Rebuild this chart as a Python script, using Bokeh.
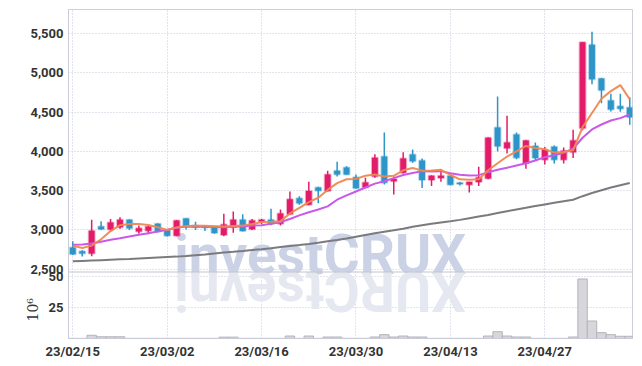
import math
from bokeh.plotting import figure
from bokeh.models import (ColumnDataSource, Range1d, FixedTicker, Label, Span, Title)
from bokeh.embed import file_html
from bokeh.resources import INLINE

dates = ["23/02/15", "23/02/16", "23/02/17", "23/02/20", "23/02/21", "23/02/22", "23/02/23", "23/02/24",
         "23/02/27", "23/02/28", "23/03/02", "23/03/03", "23/03/06", "23/03/07", "23/03/08", "23/03/09",
         "23/03/10", "23/03/13", "23/03/14", "23/03/15", "23/03/16", "23/03/17", "23/03/20", "23/03/21",
         "23/03/22", "23/03/23", "23/03/24", "23/03/27", "23/03/28", "23/03/29", "23/03/30", "23/03/31",
         "23/04/03", "23/04/04", "23/04/05", "23/04/06", "23/04/07", "23/04/10", "23/04/11", "23/04/12",
         "23/04/13", "23/04/14", "23/04/17", "23/04/18", "23/04/19", "23/04/20", "23/04/21", "23/04/24",
         "23/04/25", "23/04/26", "23/04/27", "23/04/28", "23/05/02", "23/05/03", "23/05/04", "23/05/08",
         "23/05/09", "23/05/10", "23/05/11", "23/05/12"]

opens = [2775, 2730, 2700, 3045, 3005, 3035, 3130, 2980, 2990, 3080,
         3000, 2925, 3145, 3055, 3040, 3045, 2935, 3035, 3130, 3010,
         3105, 3130, 3080, 3200, 3405, 3320, 3540, 3495, 3755, 3795,
         3670, 3540, 3680, 3935, 3620, 3730, 3960, 3885, 3635, 3660,
         3690, 3600, 3575, 3612, 3655, 4305, 4040, 4215, 3850, 4070,
         3895, 4060, 3895, 3990, 4295, 5360, 4930, 4650, 4575, 4560]
highs = [2855, 2740, 3130, 3110, 3140, 3160, 3135, 3055, 3050, 3085,
         3005, 3125, 3150, 3105, 3045, 3050, 3205, 3235, 3200, 3140,
         3140, 3270, 3260, 3490, 3430, 3615, 3550, 3755, 3870, 3810,
         3705, 3665, 3965, 4240, 3680, 3990, 4025, 3910, 3695, 3775,
         3695, 3612, 3615, 3805, 4180, 4700, 4455, 4240, 4145, 4115,
         4055, 4075, 4050, 4275, 5395, 5525, 4935, 4735, 4735, 4690]
lows = [2680, 2660, 2665, 3000, 2980, 3015, 3000, 2950, 2945, 2970,
        2915, 2920, 3005, 3000, 2985, 2950, 2920, 2965, 2980, 3000,
        3075, 3060, 3055, 3195, 3320, 3315, 3340, 3490, 3680, 3700,
        3525, 3535, 3665, 3580, 3450, 3720, 3855, 3535, 3560, 3615,
        3570, 3565, 3477, 3560, 3645, 4000, 3975, 3900, 3780, 3880,
        3835, 3845, 3845, 3915, 4270, 4855, 4615, 4510, 4505, 4340]
closes = [2690, 2700, 2990, 3010, 3095, 3130, 3020, 3020, 3045, 2980,
          2925, 3120, 3045, 3035, 3030, 2960, 3070, 3130, 2985, 3120,
          3130, 3080, 3210, 3390, 3340, 3495, 3500, 3705, 3705, 3705,
          3530, 3605, 3920, 3600, 3650, 3910, 3875, 3635, 3690, 3690,
          3575, 3585, 3612, 3668, 4175, 4065, 4115, 3920, 4140, 3915,
          4020, 3895, 4010, 4140, 5390, 4920, 4780, 4535, 4545, 4435]

ma_short = [2800, 2770, 2800, 2880, 2985, 3060, 3075, 3075, 3062, 3035,
            3000, 3030, 3050, 3052, 3052, 3048, 3044, 3050, 3055, 3075,
            3100, 3104, 3112, 3210, 3282, 3354, 3410, 3510, 3596, 3645,
            3650, 3690, 3706, 3681, 3690, 3760, 3790, 3755, 3757, 3766,
            3700, 3645, 3640, 3645, 3760, 3850, 3935, 4000, 4070, 4045,
            4028, 3985, 3992, 4015, 4309, 4490, 4671, 4768, 4845, 4665]
ma_mid = [2811, 2813, 2827, 2849, 2874, 2895, 2917, 2938, 2959, 2980,
          3002, 3027, 3044, 3042, 3040, 3038, 3035, 3040, 3044, 3057,
          3061, 3078, 3099, 3140, 3185, 3226, 3260, 3300, 3385, 3440,
          3490, 3540, 3590, 3620, 3660, 3700, 3725, 3749, 3745, 3749,
          3723, 3702, 3693, 3698, 3736, 3766, 3792, 3821, 3850, 3885,
          3927, 3952, 3983, 4034, 4174, 4280, 4343, 4394, 4424, 4471]
ma_long = [2600, 2605, 2610, 2615, 2620, 2625, 2630, 2636, 2642, 2648,
           2654, 2660, 2668, 2678, 2688, 2700, 2712, 2722, 2733, 2745,
           2755, 2768, 2782, 2795, 2808, 2822, 2838, 2855, 2872, 2890,
           2912, 2935, 2958, 2978, 2995, 3015, 3040, 3060, 3078, 3095,
           3110, 3128, 3150, 3170, 3190, 3215, 3238, 3260, 3282, 3305,
           3325, 3345, 3365, 3385, 3430, 3470, 3505, 3540, 3570, 3598]

volume = [0.5, 0.5, 3.0, 1.8, 1.8, 1.8, 0.5, 0.5, 0.5, 0.5,
          0.5, 0.5, 0.5, 0.5, 0.5, 0.5, 1.5, 1.5, 0.5, 0.5,
          0.5, 0.5, 0.5, 2.4, 0.5, 2.4, 0.5, 1.6, 1.6, 0.5,
          0.5, 0.5, 1.6, 3.5, 1.6, 2.4, 1.6, 1.6, 0.5, 0.5,
          0.5, 0.5, 0.5, 0.5, 2.4, 5.9, 2.4, 1.6, 1.6, 0.5,
          0.5, 0.5, 0.5, 1.6, 48.4, 14.5, 5.1, 3.5, 2.2, 2.2]

tick_positions = [0, 10, 20, 30, 40, 50]
price_ticks = [2500, 3000, 3500, 4000, 4500, 5000, 5500]
volume_ticks = [25, 50]

UP = "#e31c69"
DOWN = "#2e95c9"
TICK_FONT = "Roboto"
GRID = "#c6c9d9"

# price range spans the whole frame; the volume panel lives in its lower part
P_LO, P_HI = 1617, 5808
V_LO, V_HI = 0.4, 265.7


def vol_to_price(vv):
    return P_LO + (vv - V_LO) / (V_HI - V_LO) * (P_HI - P_LO)


idx = list(range(len(dates)))
colors = [UP if c >= o else DOWN for o, c in zip(opens, closes)]
src = ColumnDataSource(dict(
    x=idx, open=opens, high=highs, low=lows, close=closes,
    top=[max(o, c) for o, c in zip(opens, closes)],
    bottom=[min(o, c) for o, c in zip(opens, closes)],
    color=colors, ma_s=ma_short, ma_m=ma_mid, ma_l=ma_long, vol=volume,
))

p = figure(width=642, height=366, x_range=Range1d(-0.455, 59.29), y_range=Range1d(P_LO, P_HI),
           output_backend="svg", toolbar_location=None,
           min_border_left=68, min_border_right=10, min_border_top=9, min_border_bottom=28)
p.extra_y_ranges = {"vol": Range1d(V_LO, V_HI)}
p.background_fill_color = "white"
p.border_fill_color = "white"
p.outline_line_color = "#cfd0d6"

vol_tick_pos = [int(round(vol_to_price(t))) for t in volume_ticks]
overrides = {t: f"{t:,}" for t in price_ticks}
for t, pos in zip(volume_ticks, vol_tick_pos):
    overrides[pos] = str(t)

p.yaxis.ticker = FixedTicker(ticks=price_ticks + vol_tick_pos)
p.yaxis.major_label_overrides = overrides
p.xaxis.ticker = FixedTicker(ticks=tick_positions)
p.xaxis.major_label_overrides = {i: dates[i] for i in tick_positions}
for ax in (p.xaxis[0], p.yaxis[0]):
    ax.major_label_text_font = TICK_FONT
    ax.major_label_text_font_size = "13px"
    ax.major_label_text_font_style = "bold"
    ax.major_label_text_color = "#333333"
    ax.major_tick_line_color = None
    ax.major_tick_out = 0
    ax.major_tick_in = 0
    ax.minor_tick_line_color = None
    ax.minor_tick_out = 0
    ax.major_label_standoff = 5
    ax.axis_line_color = "#c9cbd8"

# unit label of the volume panel
unit = Title(text="10\u2076", align="left", offset=17, standoff=-26,
             text_font="DejaVu Serif", text_font_style="normal",
             text_font_size="14px", text_color="#333333")
p.add_layout(unit, "left")

p.xgrid.ticker = FixedTicker(ticks=tick_positions)
for g in (p.xgrid, p.ygrid):
    g.grid_line_color = GRID
    g.grid_line_dash = "1 2"

# watermark and its reflection
wm = Label(x=26.2, y=2687, text="investCRUX", text_font="Roboto", text_font_style="bold",
           text_font_size="55px", text_color="#cbd2e5", text_align="center",
           text_baseline="alphabetic", level="underlay")
p.add_layout(wm)
rf = Label(x=26.2, y=2222, text="XURCtsevni", angle=math.pi, text_font="Roboto",
           text_font_style="bold", text_font_size="55px", text_color="#e5e8f0",
           text_align="center", text_baseline="alphabetic", level="underlay")
p.add_layout(rf)

# panel separator
p.add_layout(Span(location=2464, dimension="width", line_color="#c4c5cc", line_width=1))

p.vbar(x="x", top="vol", bottom=0, width=1.0, source=src, y_range_name="vol",
       fill_color="#d6d6db", line_color="#b4b4ba", line_width=1)

p.segment(x0="x", y0="high", x1="x", y1="low", source=src, line_color="color", line_width=1.5)
p.vbar(x="x", top="top", bottom="bottom", width=0.62, source=src,
       fill_color="color", line_color="color", line_alpha=0.35, line_width=2)
p.line("x", "ma_l", source=src, line_color="#7b7b7f", line_width=2)
p.line("x", "ma_m", source=src, line_color="#c95ae9", line_width=2)
p.line("x", "ma_s", source=src, line_color="#f0874f", line_width=2, line_alpha=0.95)

open("out.html", "w").write(file_html(p, INLINE))
